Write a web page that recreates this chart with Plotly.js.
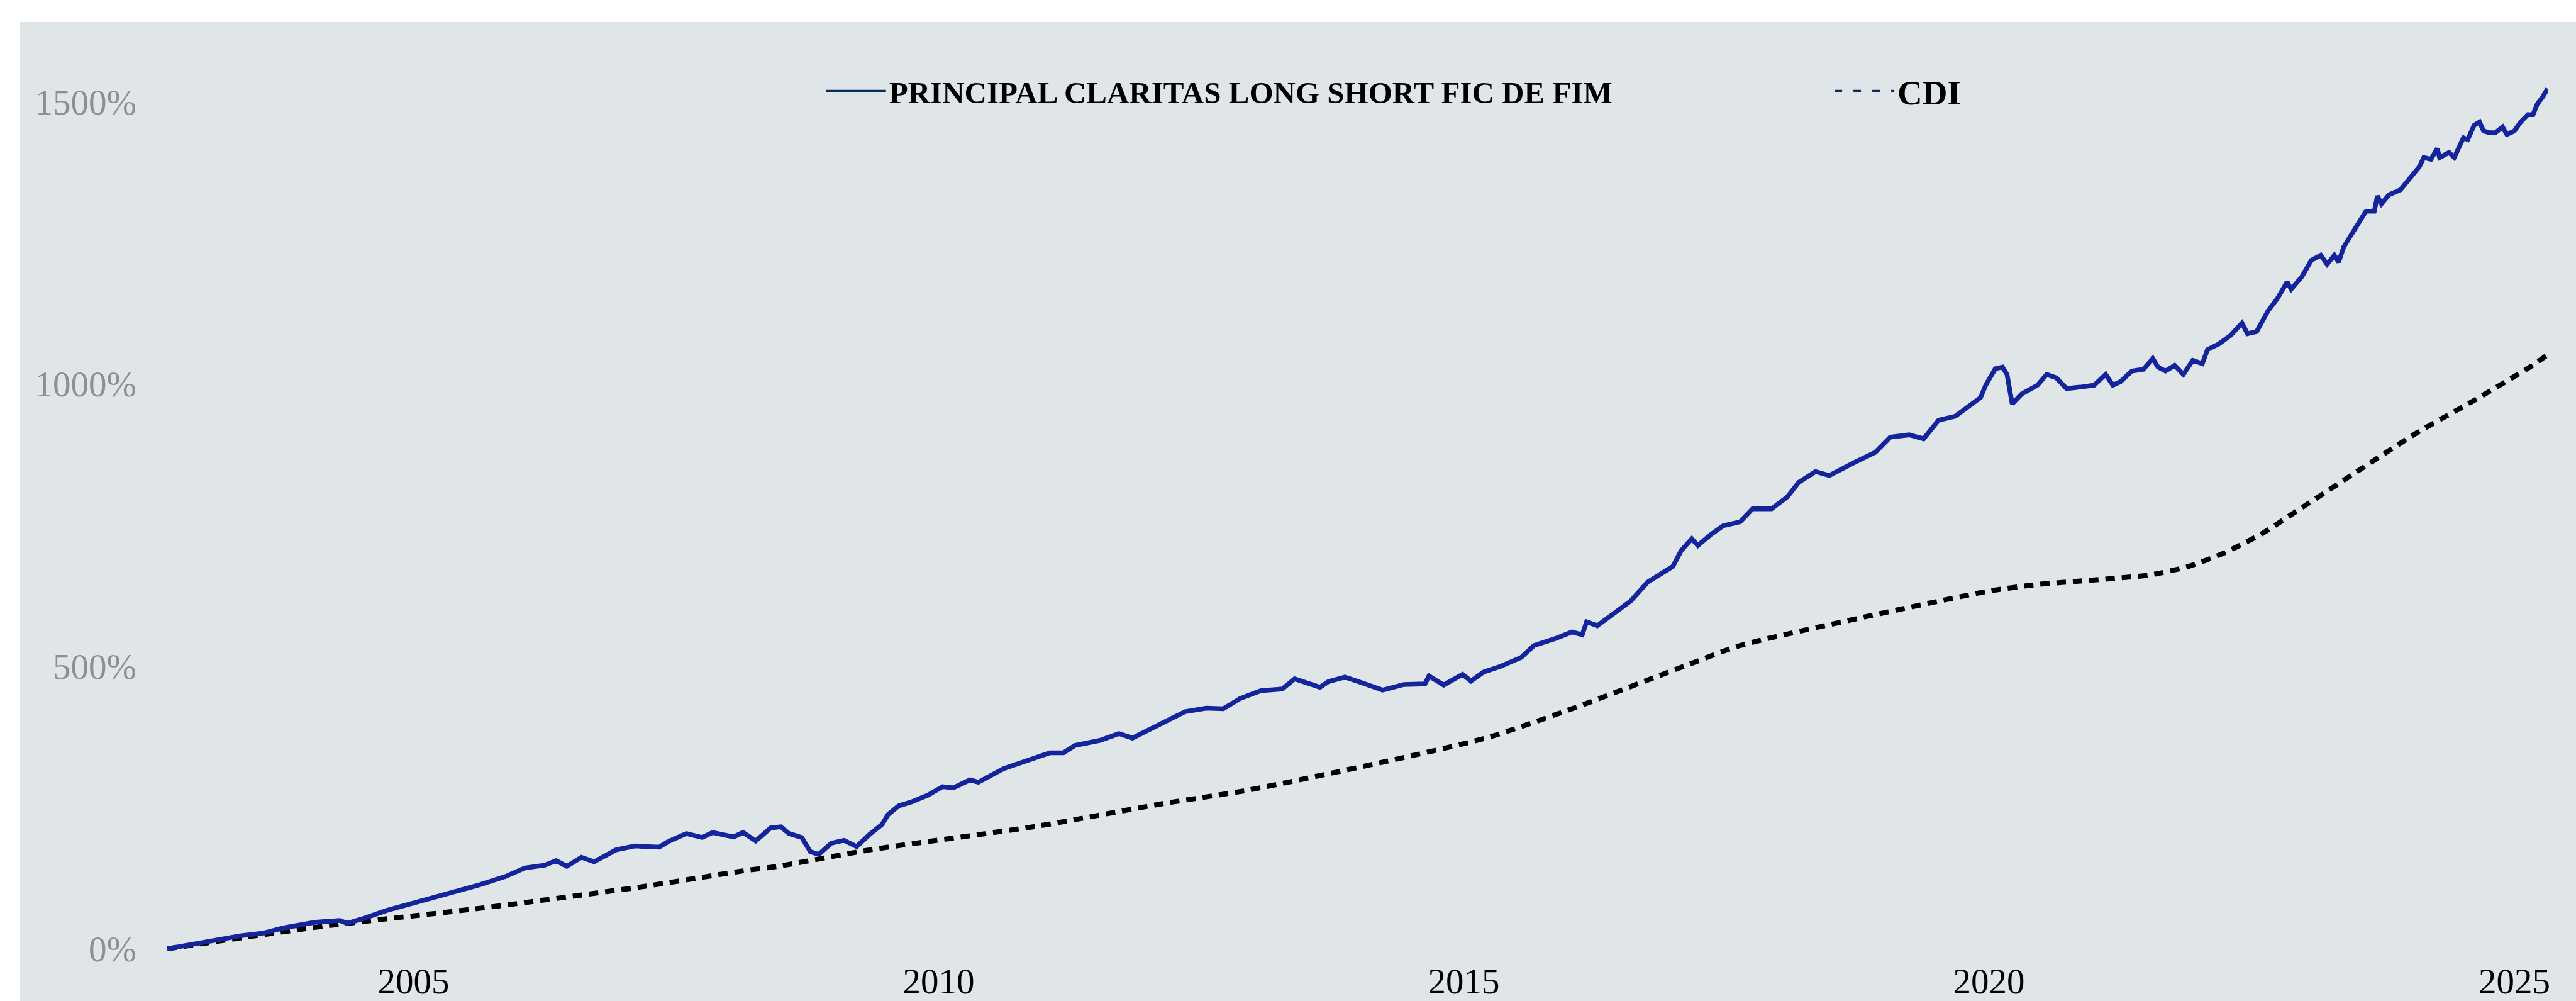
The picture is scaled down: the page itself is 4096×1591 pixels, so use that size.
<!DOCTYPE html>
<html>
<head>
<meta charset="utf-8">
<script src="https://cdn.plot.ly/plotly-3.0.1.min.js"></script>
<style>
  html, body { margin: 0; padding: 0; background: #ffffff; width: 4096px; height: 1591px; overflow: hidden; }
  #chart { position: absolute; left: 32px; top: 35px; width: 4064px; height: 1556px; }
</style>
</head>
<body>
<div id="chart"></div>
<script>
// ---- Data (cumulative return, %) ----
const fundName = "PRINCIPAL CLARITAS LONG SHORT FIC DE FIM";
const cdiName = "CDI";

const fundDates = [
 "2002-08-29","2003-02-17","2003-05-10","2003-07-31","2003-10-08","2004-01-26","2004-04-20","2004-05-15","2004-07-08","2004-10-01",
 "2005-01-19","2005-03-15","2005-05-08","2005-08-11","2005-11-17","2006-01-23","2006-04-02","2006-05-12","2006-06-18","2006-08-08",
 "2006-09-21","2006-12-06","2007-02-10","2007-05-05","2007-06-07","2007-08-08","2007-10-02","2007-11-07","2008-01-19","2008-02-21",
 "2008-04-05","2008-05-27","2008-07-01","2008-07-30","2008-09-12","2008-10-12","2008-11-10","2008-12-24","2009-02-06","2009-03-22",
 "2009-05-05","2009-06-18","2009-07-10","2009-08-15","2009-09-28","2009-11-25","2010-01-15","2010-02-21","2010-04-20","2010-05-19",
 "2010-08-15","2010-11-10","2011-01-23","2011-03-11","2011-04-20","2011-07-16","2011-09-20","2011-11-06","2011-12-28","2012-03-10",
 "2012-05-08","2012-07-20","2012-09-17","2012-11-14","2013-01-26","2013-04-10","2013-05-23","2013-08-19","2013-09-17","2013-11-14",
 "2014-01-12","2014-03-25","2014-06-07","2014-08-19","2014-09-02","2014-10-23","2014-12-28","2015-01-26","2015-03-11","2015-05-08",
 "2015-07-20","2015-09-02","2015-11-14","2016-01-12","2016-02-17","2016-03-03","2016-04-09","2016-06-06","2016-08-04","2016-10-01",
 "2016-11-14","2016-12-28","2017-01-26","2017-03-04","2017-03-25","2017-05-08","2017-06-21","2017-08-19","2017-10-01","2017-12-06",
 "2018-01-30","2018-03-11","2018-05-08","2018-06-25","2018-09-20","2018-12-02","2019-01-23","2019-03-30","2019-05-19","2019-07-10",
 "2019-09-06","2019-10-20","2019-12-03","2019-12-21","2020-01-23","2020-02-17","2020-03-04","2020-03-22","2020-04-23","2020-06-18",
 "2020-07-20","2020-08-22","2020-09-27","2020-11-21","2021-01-01","2021-02-10","2021-03-07","2021-04-02","2021-05-12","2021-06-21",
 "2021-07-24","2021-08-11","2021-09-06","2021-10-08","2021-11-07","2021-12-10","2022-01-12","2022-01-30","2022-03-11","2022-04-20",
 "2022-05-30","2022-06-18","2022-07-20","2022-08-29","2022-10-01","2022-11-03","2022-11-17","2022-12-24","2023-01-26","2023-02-28",
 "2023-03-22","2023-04-16","2023-05-01","2023-05-19","2023-06-14","2023-07-10","2023-08-04","2023-09-02","2023-09-13","2023-09-27",
 "2023-10-23","2023-12-02","2023-12-28","2024-02-06","2024-02-21","2024-03-17","2024-04-08","2024-04-16","2024-05-19","2024-06-06",
 "2024-07-08","2024-07-23","2024-08-14","2024-09-02","2024-09-16","2024-10-08","2024-10-27","2024-11-21","2024-12-06","2025-01-01",
 "2025-01-23","2025-02-17","2025-03-07","2025-03-22","2025-04-09","2025-04-27"
];
const fundValues = [
 0,15,23,28,37,47,50,45,53,68,
 83,92,98,112,128,143,148,156,146,162,
 154,175,182,180,190,204,197,206,198,206,
 191,214,216,204,197,172,167,187,192,181,
 202,220,238,253,260,272,287,285,299,295,
 319,335,347,347,360,369,381,373,387,405,
 420,426,425,443,457,460,478,463,473,481,
 471,458,468,469,483,467,486,474,490,500,
 516,537,549,561,556,579,572,595,616,649,
 663,677,705,726,714,733,749,756,779,779,
 800,826,845,838,861,879,906,910,903,936,
 943,959,976,998,1027,1030,1017,965,982,998,
 1017,1011,992,995,998,1017,998,1004,1023,1026,
 1045,1030,1023,1033,1017,1042,1036,1061,1071,1086,
 1108,1089,1093,1130,1152,1181,1168,1190,1219,1228,
 1212,1228,1216,1243,1265,1284,1306,1306,1333,1319,
 1335,1344,1360,1385,1401,1398,1417,1401,1410,1401,
 1436,1433,1458,1464,1448,1445,1445,1455,1442,1448,
 1464,1477,1477,1496,1508,1523
];

const cdiDates = [
 "2002-08-29","2004-02-24","2005-08-25","2007-02-24","2008-02-21","2008-06-21","2009-05-05","2010-12-09","2012-02-20","2012-12-13",
 "2014-04-08","2015-03-25","2016-01-12","2017-02-24","2017-08-19","2018-10-30","2019-12-28","2020-06-18","2021-01-01","2021-07-16",
 "2021-11-25","2022-03-25","2022-08-04","2022-12-24","2023-07-10","2024-01-26","2024-08-11","2025-02-24","2025-04-27"
];
const cdiValues = [
 0,40,72,109,138,146,175,217,257,281,
 332,374,425,504,537,588,633,645,653,662,
 677,700,734,781,847,913,970,1030,1052
];

const yTickValues = [0, 500, 1000, 1500];
const yTickLabels = ["0%", "500%", "1000%", "1500%"];
const xTickValues = ["2005-01-01", "2010-01-01", "2015-01-01", "2020-01-01", "2025-01-01"];
const xTickLabels = ["2005", "2010", "2015", "2020", "2025"];

const serif = "Liberation Serif, 'Times New Roman', serif";

// ---- Traces ----
const fundTrace = {
  x: fundDates, y: fundValues, type: "scatter", mode: "lines",
  name: fundName, showlegend: false,
  line: { color: "#14249c", width: 7.5, shape: "linear" },
  hoverinfo: "skip"
};
const cdiTrace = {
  x: cdiDates, y: cdiValues, type: "scatter", mode: "lines",
  name: cdiName, showlegend: false,
  line: { color: "#000000", width: 8, dash: "15px,11px", shape: "spline", smoothing: 0.6 },
  hoverinfo: "skip"
};
// Legend entries (legend symbols in the reference are drawn in navy)
const fundLegend = {
  x: [null], y: [null], type: "scatter", mode: "lines",
  name: "<b>" + fundName + "</b>", legend: "legend",
  line: { color: "#0b2a5c", width: 4 }
};
const cdiLegend = {
  x: [null], y: [null], type: "scatter", mode: "lines",
  name: "<b>" + cdiName + "</b>", legend: "legend2",
  line: { color: "#0b2a5c", width: 4, dash: "12px,18px" }
};

const layout = {
  width: 4064, height: 1556,
  margin: { l: 234, r: 45, t: 0, b: 70, pad: 0 },
  paper_bgcolor: "#e0e5e8",
  plot_bgcolor: "#e0e5e8",
  font: { family: serif, color: "#000000" },
  showlegend: true,
  legend: {
    orientation: "h",
    x: 0.2755, xanchor: "left",
    y: 0.926, yanchor: "middle",
    bgcolor: "rgba(0,0,0,0)",
    font: { family: serif, size: 49, color: "#000000" },
    itemwidth: 95,
    valign: "middle"
  },
  legend2: {
    orientation: "h",
    x: 0.6991, xanchor: "left",
    y: 0.926, yanchor: "middle",
    bgcolor: "rgba(0,0,0,0)",
    font: { family: serif, size: 55, color: "#000000" },
    itemwidth: 95,
    valign: "middle"
  },
  xaxis: {
    type: "date",
    range: [fundDates[0], fundDates[fundDates.length - 1]],
    tickmode: "array", tickvals: xTickValues, ticktext: xTickLabels,
    showgrid: false, zeroline: false, showline: false, ticks: "",
    tickfont: { family: serif, size: 57, color: "#000000" },
    ticklabelstandoff: 0
  },
  yaxis: {
    range: [-14.5, 1641],
    tickmode: "array", tickvals: yTickValues, ticktext: yTickLabels,
    showgrid: false, zeroline: false, showline: false, ticks: "",
    tickfont: { family: serif, size: 57, color: "#8f8f8f" },
    ticklabelstandoff: 48
  }
};

Plotly.newPlot("chart", [cdiTrace, fundTrace, fundLegend, cdiLegend], layout, { staticPlot: true, displayModeBar: false });
</script>
</body>
</html>
